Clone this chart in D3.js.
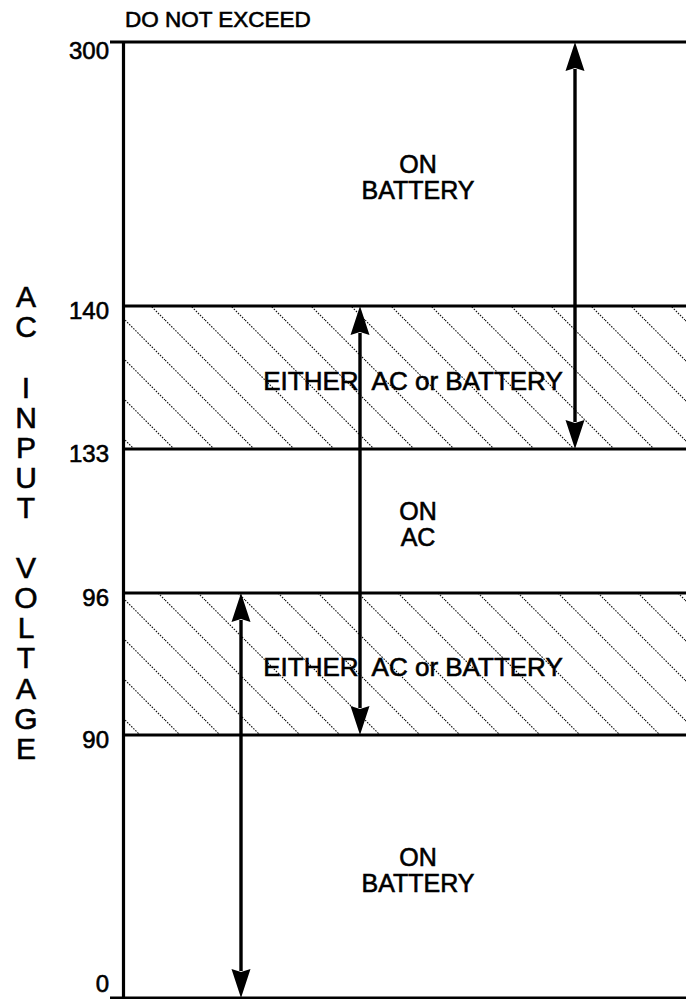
<!DOCTYPE html>
<html><head><meta charset="utf-8">
<script src="https://cdn.jsdelivr.net/npm/d3@7"></script>
<style>
html,body{margin:0;padding:0;background:#fff;}
svg{display:block;}
text{font-family:"Liberation Sans",Arial,Helvetica,sans-serif;fill:#000;stroke:#000;stroke-width:0.6px;}
</style>
</head><body>
<svg id="chart" width="686" height="999"></svg>
<script>
// ---- data ----
const levels = [0, 90, 96, 133, 140, 300];
const tickLabels = ["0", "90", "96", "133", "140", "300"];
const bandLower = [0, 90, 96, 133, 140];
const bandUpper = [90, 96, 133, 140, 300];
const bandLabels = [["ON", "BATTERY"], ["EITHER  AC or BATTERY"], ["ON", "AC"], ["EITHER  AC or BATTERY"], ["ON", "BATTERY"]];
const bandHatched = [false, true, false, true, false];
const arrowFrom = [0, 90, 133];
const arrowTo = [96, 140, 300];
const axisTitle = "AC INPUT VOLTAGE";
const limitNote = "DO NOT EXCEED";

// ---- layout ----
const W = 686, H = 999;
const plotLeft = 123, plotRight = 686;
const levelY = [998, 735, 593, 449, 306, 42];   // schematic (non-linear) axis positions
const arrowX = [241, 360, 575];

const svg = d3.select("#chart");
const y = d3.scaleLinear().domain(levels).range(levelY);

// hatch pattern
const defs = svg.append("defs");
const pat = defs.append("pattern")
  .attr("id", "hatch").attr("patternUnits", "userSpaceOnUse")
  .attr("width", 40).attr("height", 40)
  .attr("patternTransform", "translate(5,0)");
[[-4, -4, 44, 44], [-4, 36, 4, 44], [36, -4, 44, 4]].forEach(s => {
  pat.append("line").attr("x1", s[0]).attr("y1", s[1]).attr("x2", s[2]).attr("y2", s[3])
    .attr("stroke", "#111").attr("stroke-width", 1.1).attr("stroke-dasharray", "1.6 1.3");
});

const bands = bandLower.map((lo, i) => ({lo, hi: bandUpper[i], label: bandLabels[i], hatched: bandHatched[i]}));

// hatched bands
svg.append("g").selectAll("rect").data(bands.filter(d => d.hatched)).join("rect")
  .attr("x", plotLeft).attr("width", plotRight - plotLeft)
  .attr("y", d => y(d.hi)).attr("height", d => y(d.lo) - y(d.hi))
  .attr("fill", "url(#hatch)");

// horizontal level lines
svg.append("g").selectAll("line").data(levels).join("line")
  .attr("x1", (d, i) => (i === 0 || i === levels.length - 1) ? plotLeft - 13 : plotLeft)
  .attr("x2", plotRight)
  .attr("y1", d => y(d)).attr("y2", d => y(d))
  .attr("stroke", "#000").attr("stroke-width", 3.2);

// left axis
const axis = d3.axisLeft(y).tickValues(levels)
  .tickFormat((d, i) => tickLabels[i]).tickSize(0).tickSizeOuter(0).tickPadding(14);
const gAxis = svg.append("g").attr("transform", `translate(${plotLeft},0)`).call(axis);
gAxis.select(".domain").attr("stroke", "#000").attr("stroke-width", 3.2);
gAxis.selectAll(".tick text")
  .attr("font-size", 24)
  .attr("font-family", '"Liberation Sans",Arial,Helvetica,sans-serif')
  .attr("fill", "#000")
  .attr("dy", "0.35em")
  .attr("y", d => Math.max(50, Math.min(983, y(d) + 4)) - y(d));

// band labels
const lineGap = 26, cap = 18;
bands.forEach(b => {
  const mid = (y(b.lo) + y(b.hi)) / 2 + 3;
  const n = b.label.length;
  const single = n === 1;
  const t = svg.append("text").attr("text-anchor", "middle")
    .attr("font-size", single ? 26 : 25)
    .style("white-space", "pre");
  b.label.forEach((s, i) => {
    t.append("tspan").attr("x", single ? 413 : 418)
      .attr("y", mid + (i - (n - 1) / 2) * lineGap + cap / 2)
      .text(s);
  });
});

// arrows
const headW = 19, headL = 29;
const gArr = svg.append("g");
arrowFrom.forEach((lo, i) => {
  const x = arrowX[i], y1 = y(lo), y2 = y(arrowTo[i]);
  gArr.append("line").attr("x1", x).attr("x2", x).attr("y1", y1 - headL + 2).attr("y2", y2 + headL - 2)
    .attr("stroke", "#000").attr("stroke-width", 3.4);
  gArr.append("path").attr("d", `M${x},${y2} L${x + headW / 2},${y2 + headL} L${x},${y2 + headL - 3} L${x - headW / 2},${y2 + headL} Z`)
    .attr("fill", "#000");
  gArr.append("path").attr("d", `M${x},${y1} L${x + headW / 2},${y1 - headL} L${x},${y1 - headL + 3} L${x - headW / 2},${y1 - headL} Z`)
    .attr("fill", "#000");
});

// vertical axis title, stacked letters
const chars = axisTitle.split("");
const pitch = 30.1;
const centerY = (y(300) + y(0)) / 2;
const firstBase = centerY - (chars.length - 1) / 2 * pitch + 13;
const gTitle = svg.append("g");
chars.forEach((c, i) => {
  if (c === " ") return;
  gTitle.append("text").attr("x", 26).attr("y", firstBase + i * pitch)
    .attr("text-anchor", "middle").attr("font-size", 30).text(c);
});

// top note
svg.append("text").attr("x", 125).attr("y", 27).attr("font-size", 22.5).text(limitNote);
</script>
</body></html>
